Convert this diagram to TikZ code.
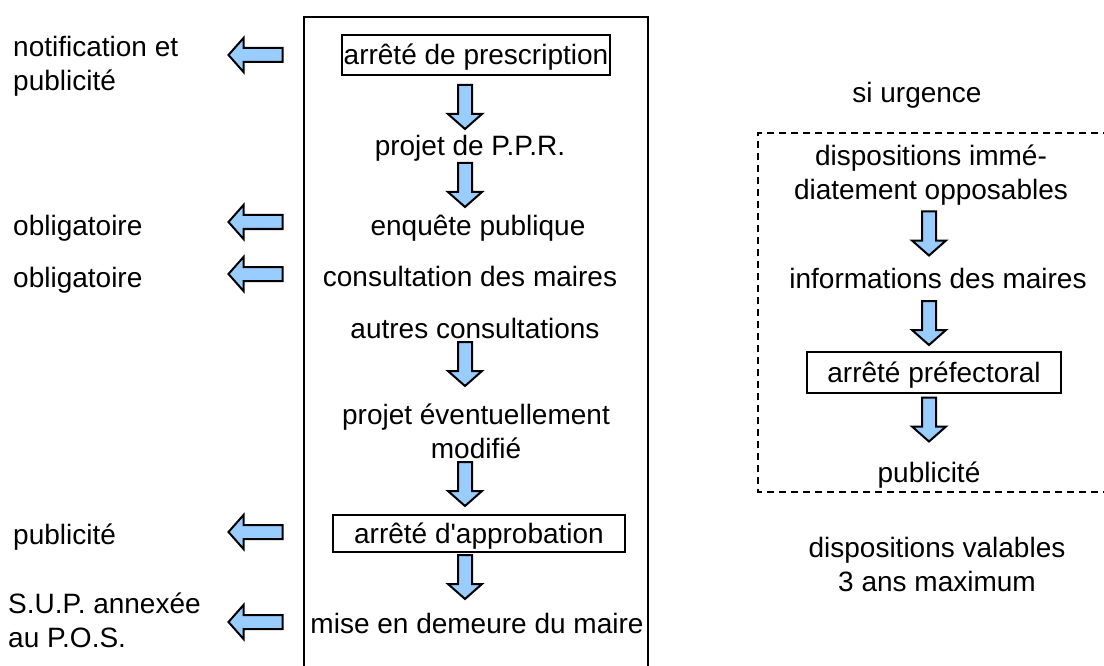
\documentclass[tikz,border=0pt]{standalone}
\usepackage{fontspec}
\setmainfont{Liberation Sans}
\definecolor{arrowblue}{HTML}{99CCFF}
\tikzset{
  txt/.style={font=\fontsize{28}{34}\selectfont, inner sep=0pt},
  one/.style={txt, text height=20pt, text depth=0pt},
  two/.style={txt, align=center},
  stepbox/.style={one, draw, line width=2pt},
  arrowfill/.style={draw, line width=2pt, fill=arrowblue, line join=miter},
  pics/downarr/.style={code={\draw[arrowfill] (-7,-22) -- (7,-22) -- (7,7) -- (17,7) -- (0,22) -- (-17,7) -- (-7,7) -- cycle;}},
  pics/leftarr/.style={code={\draw[arrowfill] (27,-7) -- (27,7) -- (-12,7) -- (-12,17) -- (-27,0) -- (-12,-17) -- (-12,-7) -- cycle;}},
}
\begin{document}
\begin{tikzpicture}[x=1pt, y=-1pt]
\useasboundingbox (0,0) rectangle (1104,666);
% procedure normale
\draw[line width=2pt] (304,672) -- (304,17) -- (648,17) -- (648,672);
\node[stepbox, minimum width=268pt, minimum height=40pt] (prescr) at (476,55) {arrêté de prescription};
\pic at (465,107) {downarr};
\node[one] (projet) at (470,146) {projet de P.P.R.};
\pic at (465,185) {downarr};
\node[one] (enquete) at (478,226) {enquête publique};
\node[one] (consmaires) at (470,276) {consultation des maires};
\node[one] (autres) at (475,328) {autres consultations};
\pic at (465,364) {downarr};
\node[two] (modif) at (476,431) {projet éventuellement\\modifié};
\pic at (465,484) {downarr};
\node[stepbox, minimum width=292pt, minimum height=37pt] (approb) at (479,533) {arrêté d\textquotesingle approbation};
\pic at (465,577) {downarr};
\node[one] (demeure) at (477,623) {mise en demeure du maire};

% effets
\node[txt, align=left, anchor=west] (notif) at (13,66) {notification et\\publicité};
\node[one, anchor=west] (oblig1) at (13,226) {obligatoire};
\node[one, anchor=west] (oblig2) at (13,277) {obligatoire};
\node[one, anchor=west] (pub) at (13,534) {publicité};
\node[txt, align=left, anchor=west] (sup) at (8,620) {S.U.P. annexée\\au P.O.S.};
\pic at (255.5,55) {leftarr};
\pic at (255.5,222) {leftarr};
\pic at (255.5,274) {leftarr};
\pic at (255.5,532) {leftarr};
\pic at (255.5,622) {leftarr};

% si urgence
\node[one] (urgence) at (917,93) {si urgence};
\draw[line width=2pt, dash pattern=on 7pt off 5pt] (1110,133) -- (758,133) -- (758,492) -- (1110,492);
\node[two] (immed) at (931,175) {dispositions immé-\\diatement opposables};
\pic at (929,233.5) {downarr};
\node[one] (info) at (938,278) {informations des maires};
\pic at (929,323) {downarr};
\node[stepbox, minimum width=254pt, minimum height=41pt] (prefect) at (934,372.5) {arrêté préfectoral};
\pic at (929,419.5) {downarr};
\node[one] (pub2) at (929,472) {publicité};
\node[two] (valables) at (937,564) {dispositions valables\\3 ans maximum};
\end{tikzpicture}
\end{document}
